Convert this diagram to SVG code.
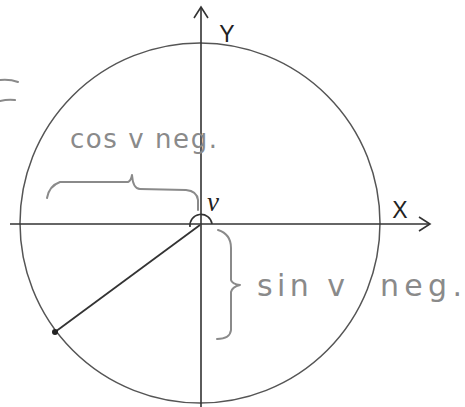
<svg xmlns="http://www.w3.org/2000/svg" width="465" height="407" viewBox="0 0 465 407">
<defs>
<style>
.ax{stroke:#333;stroke-width:1.6;fill:none}
.circ{stroke:#555;stroke-width:1.5;fill:none}
.hand{stroke:#8a8a8a;stroke-width:2;fill:none;stroke-linecap:round;stroke-linejoin:round}
.lbl{font-family:"Liberation Sans",Arial,sans-serif;fill:#222}
.htxt{font-family:"DejaVu Sans","Liberation Sans",sans-serif;fill:#8a8a8a;font-weight:normal}
</style>
</defs>
<rect width="465" height="407" fill="#fff"/>
<g id="circle">
<circle class="circ" cx="200" cy="223" r="180"/>
</g>
<g id="axes">
<line class="ax" x1="10" y1="224" x2="430" y2="224"/>
<polyline class="ax" points="419,217 430,224 419,231"/>
<line class="ax" x1="201" y1="7" x2="201" y2="407"/>
<polyline class="ax" points="194,18 201,7 208,18"/>
<text class="lbl" x="400" y="218" font-size="23" text-anchor="middle">X</text>
<text class="lbl" x="227" y="42" font-size="23" text-anchor="middle">Y</text>
</g>
<g id="angle">
<line stroke="#333" stroke-width="1.8" x1="200" y1="225" x2="55" y2="332"/>
<circle cx="55" cy="332" r="3" fill="#222"/>
<path class="ax" d="M190,227 A11,11 0 1 1 212,224"/>
<text x="213" y="211" font-size="27" font-style="italic" text-anchor="middle" font-family="'Liberation Serif','Times New Roman',serif" fill="#222">v</text>
</g>
<g id="annotations">
<path class="hand" d="M0,80 Q10,79 18,82"/>
<path class="hand" d="M0,101 Q8,99 15,100"/>
<text class="htxt" x="70" y="148" font-size="26" textLength="147" lengthAdjust="spacing">cos v neg.</text>
<path class="hand" d="M47,198 Q49,186 60,182 L128,182 Q131,181 132,175 Q133,189 140,189 L186,190 Q197,191 198,200 L198,210"/>
<path class="hand" d="M218,230 Q231,234 231,248 L231,280 Q232,284 240,285 Q232,287 231,292 L231,330 Q230,339 217,339"/>
<text class="htxt" x="257" y="296" font-size="30" textLength="88" lengthAdjust="spacing">sin v</text>
<text class="htxt" x="380" y="296" font-size="30" textLength="82" lengthAdjust="spacing">neg.</text>
</g>
</svg>
